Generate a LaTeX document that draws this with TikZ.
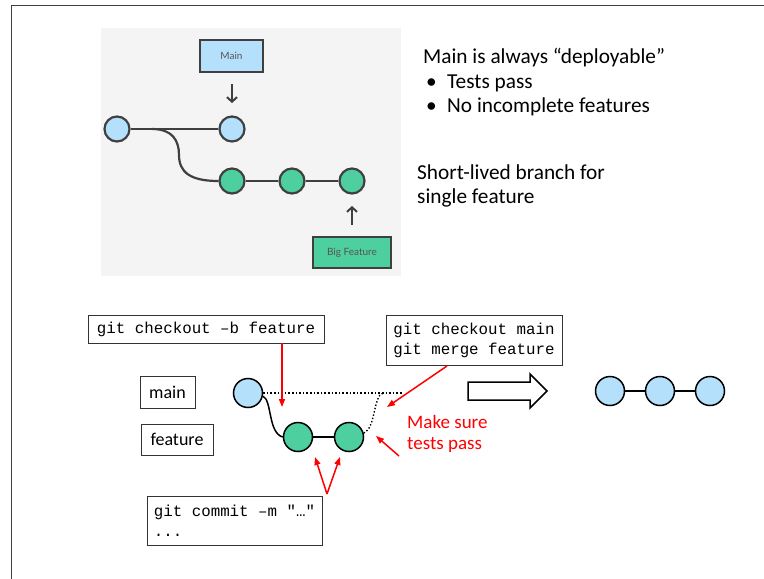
\documentclass[tikz,border=0pt]{standalone}
\usepackage{fontspec}
\setmainfont{Carlito}
\newfontfamily\monofont[WordSpace={1,0,0}]{Liberation Mono}
\newfontfamily\labelfont{Lato}
\usetikzlibrary{arrows.meta}

\definecolor{commitblue}{HTML}{B5E0FB}
\definecolor{commitgreen}{HTML}{4DCF9F}
\definecolor{panelgray}{HTML}{F4F4F4}
\definecolor{darkline}{HTML}{3F3F3F}
\definecolor{labelgray}{HTML}{555555}

\tikzset{
  x=1pt, y=-1pt,
  topcommit/.style={circle, draw=darkline, line width=2.2pt, minimum size=25pt, inner sep=0pt},
  botcommit/.style={circle, draw=black, line width=1.5pt, minimum size=29pt, inner sep=0pt},
  tag/.style={draw=darkline, line width=2pt, inner sep=0pt, font=\labelfont\fontsize{10}{12}\selectfont, text=labelgray},
  pointer/.style={draw=darkline, line width=2pt, -{Straight Barb[length=4.5pt,width=10pt]}},
  bodytext/.style={anchor=base west, inner sep=0pt, font=\fontsize{21.3}{25}\selectfont},
  cmdbox/.style={draw=black!80, line width=0.9pt, inner sep=0pt, font=\monofont\fontsize{15.8}{20}\selectfont, align=left},
  namebox/.style={draw=black!80, line width=0.9pt, font=\fontsize{18}{22}\selectfont, inner sep=0pt},
  note/.style={draw=red, line width=1.5pt, -{Triangle[length=8pt,width=6pt]}},
}

\begin{document}
\begin{tikzpicture}
\useasboundingbox (0,0) rectangle (764,579);

% page frame
\draw[darkline, line width=1pt] (11,579) -- (11,5) -- (764,5);

% ---------- upper diagram ----------
\fill[panelgray] (101,28) rectangle (401,276);

\node[tag, fill=commitblue, minimum width=63pt, minimum height=32pt] (mainlbl) at (231.5,56) {Main};
\node[tag, fill=commitgreen, minimum width=78pt, minimum height=31pt] (biglbl) at (352,252.5) {Big Feature};

\node[topcommit, fill=commitblue] (t1) at (117,129) {};
\node[topcommit, fill=commitblue] (t2) at (232,129) {};
\node[topcommit, fill=commitgreen] (f1) at (232,181) {};
\node[topcommit, fill=commitgreen] (f2) at (292,181) {};
\node[topcommit, fill=commitgreen] (f3) at (352,181) {};

\coordinate (fork) at (152,129);
\draw[darkline, line width=2.2pt] (t1) -- (t2);
\draw[darkline, line width=2.2pt] (fork) .. controls (172,129) and (179,140) .. (179,155)
      .. controls (179,172) and (190,181) .. (f1.west);
\draw[darkline, line width=2.2pt] (f1) -- (f2);
\draw[darkline, line width=2.2pt] (f2) -- (f3);

\coordinate (mainarrowtop) at (232,84);
\coordinate (mainarrowtip) at (232,103);
\draw[pointer] (mainarrowtop) -- (mainarrowtip);
\coordinate (bigarrowbot) at (352,225);
\coordinate (bigarrowtip) at (352,206);
\draw[pointer] (bigarrowbot) -- (bigarrowtip);

% ---------- notes on the right ----------
\node[bodytext] (deploy) at (423,63) {Main is always “deployable”};
\node[bodytext] (b1) at (426,88) {•};
\node[bodytext] (tests) at (447,88) {Tests pass};
\node[bodytext] (b2) at (426,112) {•};
\node[bodytext] (noinc) at (447,112) {No incomplete features};
\node[bodytext] (short1) at (417,179) {Short-lived branch for};
\node[bodytext] (short2) at (417,203) {single feature};

% ---------- lower diagram ----------
\node[cmdbox, minimum width=236pt, minimum height=28pt] (cobox) at (206,329) {git checkout –b feature};
\node[cmdbox, minimum width=176pt, minimum height=50pt] (mergebox) at (474,340)
  {git checkout main\\git merge feature};
\node[cmdbox, minimum width=175pt, minimum height=49pt] (commitbox) at (234.5,520.5)
  {git commit –m "…"\\...\hspace*{14\fontcharwd\font`\ }};

\node[namebox, minimum width=55pt, minimum height=32pt] (mainname) at (167.5,392) {main};
\node[namebox, minimum width=72pt, minimum height=31pt] (featname) at (177,439.5) {feature};

\node[botcommit, fill=commitblue] (m0) at (248,393) {};
\node[botcommit, fill=commitgreen] (g1) at (298,437) {};
\node[botcommit, fill=commitgreen] (g2) at (349,437) {};

\draw[black, line width=1.5pt] (m0.-12) .. controls (272,400) and (268,433) .. (g1.west);
\draw[black, line width=2pt] (g1) -- (g2);

\coordinate (mergeend) at (403,393);
\coordinate (mergejoin) at (383,393);
\draw[black, line width=1.6pt, dotted] (m0.east) -- (mergeend);
\draw[black, line width=1.4pt, dotted] (g2.15) .. controls (376,428) and (373,396) .. (mergejoin);

% result
\draw[black, line width=1.5pt] (468,382) -- (530,382) -- (530,374) -- (547,391)
      -- (530,408) -- (530,400) -- (468,400) -- cycle;

\node[botcommit, fill=commitblue] (r1) at (610,391) {};
\node[botcommit, fill=commitblue] (r2) at (660,391) {};
\node[botcommit, fill=commitblue] (r3) at (710,391) {};
\draw[black, line width=1.5pt] (r1) -- (r2);
\draw[black, line width=1.5pt] (r2) -- (r3);

% red annotations
\node[anchor=base west, inner sep=0pt, text=red, font=\fontsize{19}{21}\selectfont, align=left] (testsnote) at (407,449)
  {Make sure\\tests pass};

\coordinate (cotip) at (282,407);
\draw[note] (cobox.south -| cotip) -- (cotip);
\coordinate (mergetip) at (387,407);
\draw[note] (447,366) -- (mergetip);
\coordinate (teststip) at (376,436);
\coordinate (testsfrom) at (399,456);
\draw[note] (testsfrom) -- (teststip);
\coordinate (vapex) at (327,494);
\coordinate (vleft) at (315,457);
\coordinate (vright) at (340,457);
\draw[note] (vapex) -- (vleft);
\draw[note] (vapex) -- (vright);
\end{tikzpicture}
\end{document}
